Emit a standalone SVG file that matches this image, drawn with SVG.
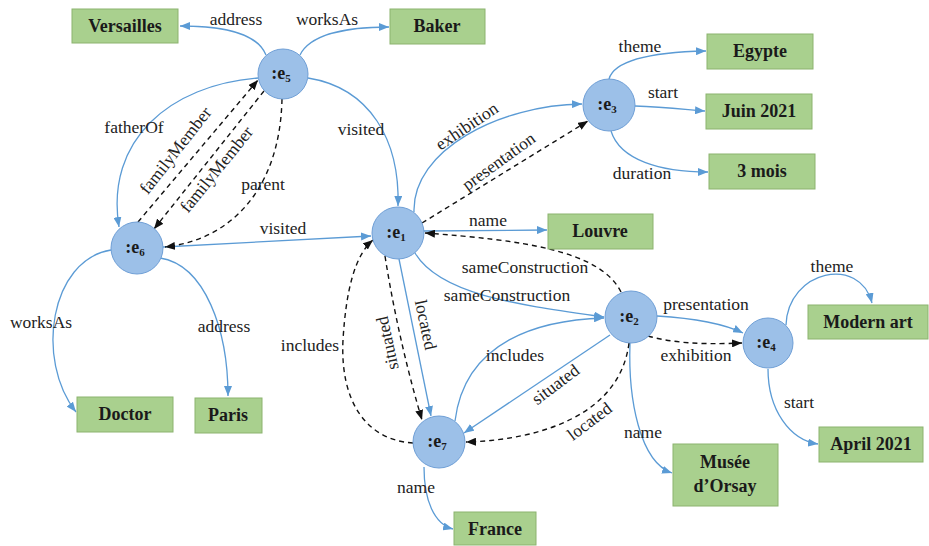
<svg xmlns="http://www.w3.org/2000/svg" width="929" height="546" viewBox="0 0 929 546" font-family="'Liberation Serif', 'Times New Roman', Tinos, 'DejaVu Serif', serif">
<style>
.bg{fill:#ffffff}
.box{fill:#a9d08e;stroke:#8cb36f;stroke-width:1}
text{font-family:'Liberation Serif','Times New Roman',Tinos,'DejaVu Serif',serif}
.bt{font-weight:bold;font-size:18px;fill:#1a1a1a;text-anchor:middle}
.node{fill:#9cc0e8;stroke:#6f9fd6;stroke-width:1}
.nt{font-weight:bold;font-size:18px;fill:#1a1a1a;text-anchor:middle}
.sub{font-size:11px}
.lb{font-size:17.5px;fill:#222;text-anchor:middle}
.e{fill:none;stroke:#5b9bd5;stroke-width:1.3;marker-end:url(#ab)}
.d{fill:none;stroke:#111;stroke-width:1.4;stroke-dasharray:5,4;marker-end:url(#ak)}
</style>
<defs>
<marker id="ab" markerUnits="userSpaceOnUse" markerWidth="10" markerHeight="8" viewBox="0 0 10 8" refX="10" refY="4" orient="auto"><path d="M0,0 L10,4 L0,8 z" fill="#5b9bd5"/></marker>
<marker id="ak" markerUnits="userSpaceOnUse" markerWidth="10" markerHeight="8" viewBox="0 0 10 8" refX="10" refY="4" orient="auto"><path d="M0,0 L10,4 L0,8 z" fill="#111"/></marker>
</defs>
<rect class="bg" x="0" y="0" width="929" height="546"/>
<g id="connectors">
<path class="e" d="M266 55 C258 35,230 26,180 26"/>
<path class="e" d="M300 55 C310 35,345 27,389 27"/>
<path class="e" d="M258 78 C170 85,105 140,119 227"/>
<path class="e" d="M308 78 C370 88,400 140,398 206"/>
<path class="e" d="M163 247 L371 236"/>
<path class="e" d="M111 250 C50 260,35 360,76 412"/>
<path class="e" d="M160 258 C205 265,228 330,228 396"/>
<path class="e" d="M414 212 C412 150,500 105,582 104"/>
<path class="e" d="M424 231 L547 230"/>
<path class="e" d="M415 253 C440 295,520 305,604 317"/>
<path class="e" d="M399 259 L431 416"/>
<path class="e" d="M657 316 C690 318,720 322,743 333"/>
<path class="e" d="M630 343 C628 400,640 462,672 473"/>
<path class="e" d="M786 325 C788 270,860 255,872 303"/>
<path class="e" d="M768 369 C768 410,790 440,818 444"/>
<path class="e" d="M609 79 C615 58,660 52,706 51"/>
<path class="e" d="M635 106 C665 107,690 110,705 111"/>
<path class="e" d="M611 131 C620 160,660 172,708 172"/>
<path class="e" d="M455 421 C465 340,540 320,604 318"/>
<path class="e" d="M610 335 L464 433"/>
<path class="e" d="M424 467 C424 500,434 524,453 529"/>
<path class="d" d="M138 222 L258 80"/>
<path class="d" d="M264 91 L154 229"/>
<path class="d" d="M282 99 C280 190,230 240,165 247"/>
<path class="d" d="M422 223 L588 121"/>
<path class="d" d="M621 292 C600 250,520 240,425 233"/>
<path class="d" d="M648 336 C680 345,715 344,742 343"/>
<path class="d" d="M629 343 C620 415,540 440,466 442"/>
<path class="d" d="M385 256 C395 320,410 380,422 420"/>
<path class="d" d="M413 443 C365 440,340 400,343 340 C346 290,355 255,373 240"/>
<g id="edge-labels">
<text class="lb" x="236" y="25">address</text>
<text class="lb" x="327" y="25">worksAs</text>
<text class="lb" x="134" y="133">fatherOf</text>
<text class="lb" transform="translate(180,154) rotate(-52)">familyMember</text>
<text class="lb" transform="translate(221,173) rotate(-51)">familyMember</text>
<text class="lb" x="263" y="190">parent</text>
<text class="lb" x="361" y="135">visited</text>
<text class="lb" x="283" y="234">visited</text>
<text class="lb" transform="translate(470,131) rotate(-34)">exhibition</text>
<text class="lb" transform="translate(502,166) rotate(-36)">presentation</text>
<text class="lb" x="640" y="52">theme</text>
<text class="lb" x="663" y="98">start</text>
<text class="lb" x="642" y="179">duration</text>
<text class="lb" x="488" y="226">name</text>
<text class="lb" x="525" y="273">sameConstruction</text>
<text class="lb" x="507" y="301">sameConstruction</text>
<text class="lb" transform="translate(420,326) rotate(78)">located</text>
<text class="lb" transform="translate(393,342) rotate(-102)">situated</text>
<text class="lb" x="310" y="351">includes</text>
<text class="lb" x="41" y="328">worksAs</text>
<text class="lb" x="224" y="332">address</text>
<text class="lb" x="706" y="310">presentation</text>
<text class="lb" x="696" y="361">exhibition</text>
<text class="lb" x="832" y="272">theme</text>
<text class="lb" x="799" y="408">start</text>
<text class="lb" x="515" y="361">includes</text>
<text class="lb" transform="translate(559,389) rotate(-37)">situated</text>
<text class="lb" transform="translate(593,426) rotate(-37)">located</text>
<text class="lb" x="643" y="438">name</text>
<text class="lb" x="416" y="493">name</text>
</g>
</g>
<g id="e5"><circle class="node" cx="283" cy="74" r="25"/><text class="nt" x="281" y="79">:e<tspan class="sub" dy="3">5</tspan></text></g>
<g id="e6"><circle class="node" cx="137" cy="248" r="26"/><text class="nt" x="135" y="253">:e<tspan class="sub" dy="3">6</tspan></text></g>
<g id="e1"><circle class="node" cx="398" cy="233" r="26"/><text class="nt" x="396" y="238">:e<tspan class="sub" dy="3">1</tspan></text></g>
<g id="e3"><circle class="node" cx="609" cy="105" r="26"/><text class="nt" x="607" y="110">:e<tspan class="sub" dy="3">3</tspan></text></g>
<g id="e2"><circle class="node" cx="631" cy="317" r="26"/><text class="nt" x="629" y="322">:e<tspan class="sub" dy="3">2</tspan></text></g>
<g id="e4"><circle class="node" cx="768" cy="343" r="25"/><text class="nt" x="766" y="348">:e<tspan class="sub" dy="3">4</tspan></text></g>
<g id="e7"><circle class="node" cx="439" cy="442" r="26"/><text class="nt" x="437" y="447">:e<tspan class="sub" dy="3">7</tspan></text></g>
<g id="versailles"><rect class="box" x="72" y="9" width="106" height="34"/><text class="bt" x="125" y="32">Versailles</text></g>
<g id="baker"><rect class="box" x="390" y="9" width="95" height="35"/><text class="bt" x="437" y="32">Baker</text></g>
<g id="egypte"><rect class="box" x="707" y="34" width="106" height="35"/><text class="bt" x="760" y="57">Egypte</text></g>
<g id="juin2021"><rect class="box" x="706" y="94" width="106" height="35"/><text class="bt" x="759" y="117">Juin 2021</text></g>
<g id="3mois"><rect class="box" x="709" y="154" width="106" height="35"/><text class="bt" x="762" y="177">3 mois</text></g>
<g id="louvre"><rect class="box" x="548" y="214" width="105" height="35"/><text class="bt" x="600" y="237">Louvre</text></g>
<g id="modernart"><rect class="box" x="808" y="305" width="120" height="34"/><text class="bt" x="868" y="328">Modern art</text></g>
<g id="april2021"><rect class="box" x="819" y="427" width="104" height="35"/><text class="bt" x="871" y="450">April 2021</text></g>
<g id="orsay"><rect class="box" x="673" y="444" width="105" height="62"/><text class="bt" x="725" y="468">Musée</text><text class="bt" x="725" y="492">d’Orsay</text></g>
<g id="france"><rect class="box" x="454" y="512" width="82" height="33"/><text class="bt" x="495" y="535">France</text></g>
<g id="doctor"><rect class="box" x="77" y="397" width="96" height="35"/><text class="bt" x="125" y="420">Doctor</text></g>
<g id="paris"><rect class="box" x="195" y="398" width="67" height="35"/><text class="bt" x="228" y="421">Paris</text></g>
</svg>
